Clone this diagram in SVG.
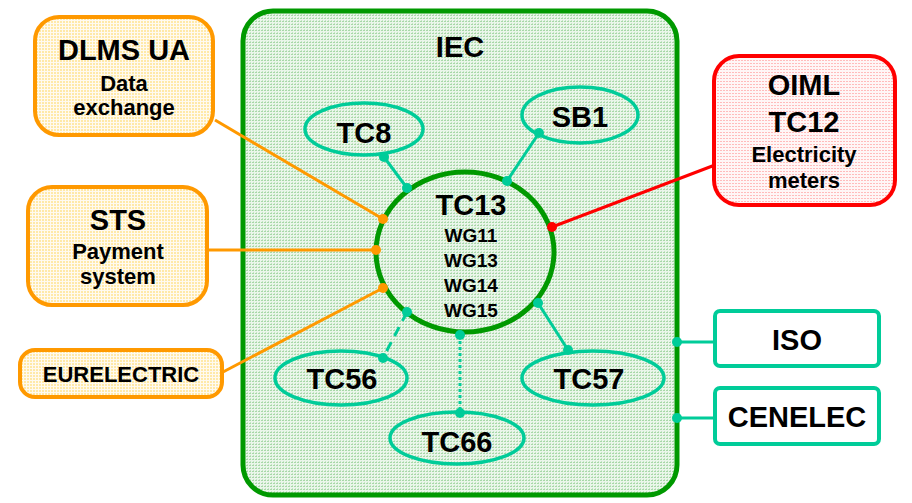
<svg xmlns="http://www.w3.org/2000/svg" width="912" height="503" viewBox="0 0 912 503">
<style>
text{font-family:"Liberation Sans",Arial,sans-serif;font-weight:bold;fill:#000;text-anchor:middle}
.big{font-size:29px}
.mid{font-size:22px}
.wg{font-size:19px}
.tc{fill:none;stroke:#00cc99;stroke-width:3.5}
.tl{stroke:#00cc99;stroke-width:3;fill:none}
.td{fill:#00cc99}
.ol{stroke:#ff9900;stroke-width:3;fill:none}
.od{fill:#ff9900}
.obox{fill:url(#py);stroke:#ff9900;stroke-width:4}
</style>
<defs>
<pattern id="pg" width="3" height="3" patternUnits="userSpaceOnUse">
<rect width="3" height="3" fill="#eaf6ea"/>
<rect width="2" height="1" fill="#a8d8a8"/>
<rect x="1" y="2" width="1" height="1" fill="#c4e4c4"/>
</pattern>
<pattern id="py" width="3" height="3" patternUnits="userSpaceOnUse">
<rect width="3" height="3" fill="#fffaf0"/>
<rect width="2" height="2" fill="#ffe9a8"/>
</pattern>
<pattern id="pr" width="3" height="3" patternUnits="userSpaceOnUse">
<rect width="3" height="3" fill="#fff6f6"/>
<rect width="2" height="1" fill="#ffbcbc"/>
</pattern>
</defs>

<g id="IEC">
<rect x="243" y="11" width="434" height="484" rx="30" fill="url(#pg)" stroke="#009900" stroke-width="5"/>
<text x="460" y="57" style="font-size:29px">IEC</text>
</g>

<g id="TC13">
<ellipse cx="465" cy="252" rx="89" ry="80" fill="none" stroke="#009900" stroke-width="5"/>
<text class="big" x="471" y="215">TC13</text>
<text class="wg" x="471" y="242">WG11</text>
<text class="wg" x="471" y="267">WG13</text>
<text class="wg" x="471" y="292">WG14</text>
<text class="wg" x="471" y="317">WG15</text>
</g>

<g id="connectors">
<line class="tl" x1="384" y1="157" x2="407" y2="188"/>
<line class="tl" x1="539" y1="133" x2="507" y2="181"/>
<line class="tl" x1="407" y1="312" x2="383" y2="358" stroke-dasharray="10,7"/>
<line class="tl" x1="460" y1="335" x2="460" y2="413" stroke-dasharray="3,3"/>
<line class="tl" x1="538" y1="303" x2="568" y2="350"/>
<line class="tl" x1="677" y1="342" x2="715" y2="342"/>
<line class="tl" x1="677" y1="418" x2="715" y2="418"/>
<line class="ol" x1="215" y1="120" x2="383" y2="219"/>
<line class="ol" x1="207" y1="250" x2="376" y2="250"/>
<line class="ol" x1="223" y1="372" x2="383" y2="288"/>
<line stroke="#ff0000" stroke-width="3" x1="552" y1="227" x2="715" y2="165"/>
<circle class="td" cx="384" cy="157" r="5"/>
<circle class="td" cx="407" cy="188" r="5"/>
<circle class="td" cx="539" cy="133" r="5"/>
<circle class="td" cx="507" cy="181" r="5"/>
<circle class="td" cx="407" cy="312" r="5"/>
<circle class="td" cx="383" cy="358" r="5"/>
<circle class="td" cx="460" cy="335" r="5"/>
<circle class="td" cx="460" cy="413" r="5"/>
<circle class="td" cx="538" cy="303" r="5"/>
<circle class="td" cx="568" cy="350" r="5"/>
<circle class="td" cx="677" cy="342" r="5"/>
<circle class="td" cx="677" cy="418" r="5"/>
<circle class="od" cx="383" cy="219" r="5"/>
<circle class="od" cx="376" cy="250" r="5"/>
<circle class="od" cx="383" cy="288" r="5"/>
<circle fill="#ff0000" cx="552" cy="227" r="5"/>
</g>

<g id="TC8">
<ellipse class="tc" cx="364" cy="129" rx="59" ry="26"/>
<text class="big" x="364" y="143">TC8</text>
</g>
<g id="SB1">
<ellipse class="tc" cx="580" cy="115" rx="58" ry="28"/>
<text class="big" x="580" y="127">SB1</text>
</g>
<g id="TC56">
<ellipse class="tc" cx="341" cy="378" rx="66" ry="27"/>
<text class="big" x="342" y="389">TC56</text>
</g>
<g id="TC57">
<ellipse class="tc" cx="593" cy="378" rx="71" ry="27"/>
<text class="big" x="589" y="389">TC57</text>
</g>
<g id="TC66">
<ellipse class="tc" cx="457" cy="438" rx="67" ry="26"/>
<text class="big" x="457" y="452">TC66</text>
</g>

<g id="DLMS">
<rect class="obox" x="35" y="17" width="178" height="118" rx="24"/>
<text class="big" x="124" y="60">DLMS UA</text>
<text class="mid" x="124" y="91">Data</text>
<text class="mid" x="124" y="115">exchange</text>
</g>
<g id="STS">
<rect class="obox" x="28" y="187" width="179" height="118" rx="24"/>
<text class="big" x="118" y="230">STS</text>
<text class="mid" x="118" y="259">Payment</text>
<text class="mid" x="118" y="284">system</text>
</g>
<g id="EURELECTRIC">
<rect class="obox" x="20" y="350" width="202" height="47" rx="15"/>
<text class="mid" x="121" y="382">EURELECTRIC</text>
</g>
<g id="OIML">
<rect x="714" y="56" width="181" height="149" rx="25" fill="url(#pr)" stroke="#ff0000" stroke-width="4"/>
<text class="big" x="804" y="95">OIML</text>
<text class="big" x="804" y="132">TC12</text>
<text class="mid" x="804" y="162">Electricity</text>
<text class="mid" x="804" y="188">meters</text>
</g>
<g id="ISO">
<rect x="715" y="311" width="164" height="55" rx="5" fill="#fff" stroke="#00cc99" stroke-width="4"/>
<text class="big" x="797" y="350">ISO</text>
</g>
<g id="CENELEC">
<rect x="715" y="388" width="164" height="56" rx="5" fill="#fff" stroke="#00cc99" stroke-width="4"/>
<text class="big" x="797" y="427">CENELEC</text>
</g>
</svg>
